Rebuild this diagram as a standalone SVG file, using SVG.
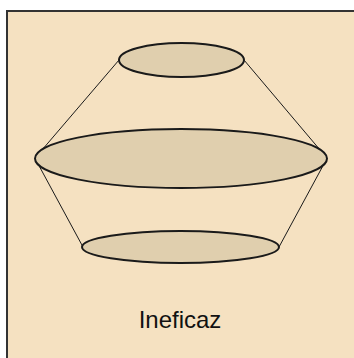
<svg xmlns="http://www.w3.org/2000/svg" width="354" height="358" viewBox="0 0 354 358">
<style>
.disk{fill:#E0CFAE;stroke:#1A1A1A;stroke-width:2}
.edge{stroke:#1A1A1A;stroke-width:1;fill:none}
.lbl{font-family:"Liberation Sans",Arial,sans-serif;font-size:24px;fill:#111}
</style>
<rect x="0" y="0" width="354" height="358" fill="#FFFFFF"/>
<rect x="7" y="11" width="360" height="360" fill="#F5E1C1" stroke="#333" stroke-width="2"/>
<g id="connectors">
<line class="edge" x1="119" y1="60" x2="36" y2="157"/>
<line class="edge" x1="244" y1="60" x2="326" y2="157"/>
<line class="edge" x1="37" y1="162" x2="83" y2="247"/>
<line class="edge" x1="325" y1="162" x2="279" y2="247"/>
</g>
<g id="top"><ellipse class="disk" cx="181.5" cy="60" rx="62.5" ry="17"/></g>
<g id="middle"><ellipse class="disk" cx="181" cy="158.5" rx="146" ry="29.5"/></g>
<g id="bottom"><ellipse class="disk" cx="180.5" cy="247" rx="98.5" ry="16"/></g>
<g id="label"><text class="lbl" x="180" y="328" text-anchor="middle">Ineficaz</text></g>
</svg>
